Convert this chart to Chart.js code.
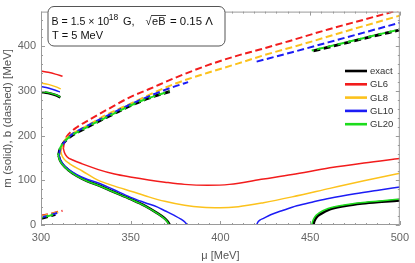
<!DOCTYPE html>
<html>
<head>
<meta charset="utf-8">
<script src="https://cdn.jsdelivr.net/npm/chart.js@4.4.1/dist/chart.umd.min.js"></script>
<style>
  html, body { margin: 0; padding: 0; background: #fff; }
  #wrap { width: 415px; height: 263px; }
</style>
</head>
<body>
<div id="wrap"><canvas id="chart"></canvas></div>
<script>
// curve samples, [mu, MeV]
const exactUpperLeft = [[300, 298], [304, 295.5], [308, 291], [310.8, 286]];
const exactLowerLeft = [[300, 15], [304, 19], [308, 24]];
const exactMainM = [[309.8, 156], [310.5, 146], [312, 136], [315, 124], [320, 110], [326, 98], [332, 89], [340, 75], [350, 58], [358, 43], [365, 26], [368.5, 16], [370.5, 8], [371.8, 0]];
const exactMainB = [[309.8, 156], [310.3, 166], [311.5, 177], [313.5, 188], [317, 200], [322, 211], [330, 228], [337, 242], [345, 258], [352, 271], [360, 284], [366, 292], [371.8, 299]];
const exactHighM = [[451.8, 0], [452.3, 8], [453.5, 17], [456, 25], [461, 35], [470, 43], [479, 48], [490, 52], [500, 55]];
const exactHighB = [[451.8, 390], [465, 403], [480, 418], [500, 437]];

const gl20UpperLeft = [[300, 299], [304, 296.5], [308, 292], [310.8, 287]];
const gl20LowerLeft = [[300, 16], [304, 20], [308, 25]];
const gl20MainM = [[309.6, 156], [310.3, 146], [311.8, 136], [314.8, 124], [319.8, 110], [325.8, 98], [331.8, 89], [339.8, 75], [349.8, 58], [357.8, 43], [364.8, 26], [368.3, 16], [370.3, 8], [371.5, 0]];
const gl20MainB = [[309.6, 156], [310.1, 166], [311.3, 177], [313.3, 188], [316.8, 200], [321.8, 211], [329.8, 228], [336.8, 242], [344.8, 258], [351.8, 271], [359.8, 284], [365.8, 292], [371.5, 299]];
const gl20HighM = [[450.9, 0], [451.4, 8], [452.6, 18], [455, 27], [460, 37], [469, 45], [478, 50], [489, 54], [500, 58]];
const gl20HighB = [[450.9, 391], [465, 404], [480, 419], [500, 438]];

const gl10UpperLeft = [[300, 310], [304, 307], [308, 302], [310.5, 298]];
const gl10LowerLeft = [[300, 17], [304, 21], [309, 27]];
const gl10MainM = [[310, 157], [310.7, 147], [312.2, 137], [315, 126], [320, 113], [326, 102], [332, 94], [340, 80], [350, 62], [358, 50], [365, 40], [369, 32], [374, 22], [378, 13], [380.3, 6], [381.5, 0]];
const gl10MainB = [[310, 157], [310.5, 167], [311.7, 178], [313.7, 189], [317, 202], [322, 214], [330, 231], [337, 245], [345, 261], [352, 274], [360, 288], [368, 301], [375, 311], [382, 320]];
const gl10HighM = [[420.2, 0], [420.8, 6], [422, 11], [424, 15], [428, 23], [435, 33], [442.6, 43], [452, 52], [461, 60], [475, 70], [488, 78], [500, 85]];
const gl10HighB = [[420.2, 366], [440, 387], [460, 409], [480, 431], [500, 453]];

const gl8UpperLeft = [[300, 318], [304, 315], [308, 310], [311, 305]];
const gl8LowerLeft = [[300, 19], [305, 24], [311, 30]];
const gl8MainM = [[311, 165], [311.6, 156], [313, 147], [316, 137], [323, 121], [332, 100], [341, 87], [350.6, 75], [360, 63], [369, 53], [380, 44], [390, 39.5], [400, 38.5], [410, 41], [424, 50], [440, 63], [461, 82], [480, 99], [500, 116]];
const gl8MainB = [[311, 165], [311.5, 176], [312.8, 187], [315, 197], [319, 208], [325, 221], [337, 248], [350, 272], [360, 291], [375, 317], [393, 341], [410, 362], [424, 380], [445, 404], [470, 434], [500, 469]];

const gl6UpperLeft = [[300, 345], [304, 342], [308, 338], [312, 333]];
const gl6LowerLeft = [[300, 21], [306, 26], [312, 32]];
const gl6MainM = [[312.4, 173], [313, 163], [314.5, 153], [318, 145], [323, 137], [332, 124], [341, 114], [350.6, 107], [360, 101], [369, 96], [380, 91], [393, 89], [405, 91], [424, 103], [440, 113], [461, 128], [480, 139], [500, 149]];
const gl6MainB = [[312.4, 173], [312.8, 183], [313.9, 195], [315.5, 204], [320, 219], [327, 236], [336.7, 258], [350, 287], [360, 304], [375, 330], [393, 358], [410, 380], [422, 393], [440, 414], [460, 438], [480, 460], [500, 482]];

const legendNames = ['exact', 'GL6', 'GL8', 'GL10', 'GL20'];
const xTicks = [300, 350, 400, 450, 500];
const yTicks = [0, 100, 200, 300, 400];

const FONT = '"Liberation Sans", Arial, sans-serif';
const colors = { exact: '#000000', gl6: '#f21c1c', gl8: '#fcc21c', gl10: '#1c1cf5', gl20: '#1cdc1c' };

function seg(points, color, dashed, width, order, dashOffset) {
  return {
    data: points.map(p => ({ x: p[0], y: p[1] })),
    borderColor: color,
    borderWidth: dashed ? width + 0.5 : width,
    borderDash: dashed ? [7, 3.5] : [],
    borderDashOffset: dashOffset || 0,
    pointRadius: 0,
    fill: false,
    cubicInterpolationMode: 'monotone',
    order: order
  };
}

const datasets = [
  seg(exactUpperLeft, colors.exact, false, 2.6, 5),
  seg(exactLowerLeft, colors.exact, true, 2.4, 5),
  seg(exactMainM, colors.exact, false, 2.6, 5),
  seg(exactMainB, colors.exact, true, 2.4, 5),
  seg(exactHighM, colors.exact, false, 2.6, 5),
  seg(exactHighB, colors.exact, true, 2.4, 5),
  seg(gl6UpperLeft, colors.gl6, false, 1.5, 4),
  seg(gl6LowerLeft, colors.gl6, true, 1.5, 4),
  seg(gl6MainM, colors.gl6, false, 1.5, 4),
  seg(gl6MainB, colors.gl6, true, 1.5, 4),
  seg(gl8UpperLeft, colors.gl8, false, 1.5, 3),
  seg(gl8LowerLeft, colors.gl8, true, 1.5, 3),
  seg(gl8MainM, colors.gl8, false, 1.5, 3),
  seg(gl8MainB, colors.gl8, true, 1.5, 3),
  seg(gl10UpperLeft, colors.gl10, false, 1.5, 2),
  seg(gl10LowerLeft, colors.gl10, true, 1.5, 2),
  seg(gl10MainM, colors.gl10, false, 1.5, 2),
  seg(gl10MainB, colors.gl10, true, 1.5, 2),
  seg(gl10HighM, colors.gl10, false, 1.5, 2),
  seg(gl10HighB, colors.gl10, true, 1.5, 2),
  seg(gl20UpperLeft, colors.gl20, false, 1.5, 1),
  seg(gl20LowerLeft, colors.gl20, true, 1.5, 1, 5),
  seg(gl20MainM, colors.gl20, false, 1.5, 1),
  seg(gl20MainB, colors.gl20, true, 1.5, 1, 5),
  seg(gl20HighM, colors.gl20, false, 1.5, 1),
  seg(gl20HighB, colors.gl20, true, 1.5, 1, 5)
];

// frame, inward ticks, note box and legend
const decor = {
  id: 'decor',
  afterDatasetsDraw(chart) {
    const { ctx, chartArea: a, scales: { x, y } } = chart;
    ctx.save();
    ctx.strokeStyle = '#9a9a9a';
    ctx.lineWidth = 1;
    ctx.strokeRect(a.left + 0.5, a.top + 0.5, a.right - a.left - 1, a.bottom - a.top - 1);
    ctx.beginPath();
    for (let v = 300; v <= 500.01; v += 6.25) {
      const px = Math.round(x.getPixelForValue(v)) + 0.5;
      const len = (v % 50 === 0) ? 4 : 2;
      ctx.moveTo(px, a.bottom); ctx.lineTo(px, a.bottom - len);
      ctx.moveTo(px, a.top); ctx.lineTo(px, a.top + len);
    }
    for (let v = 0; v <= y.max; v += 20) {
      const py = Math.round(y.getPixelForValue(v)) + 0.5;
      const len = (v % 100 === 0) ? 4 : 2;
      ctx.moveTo(a.left, py); ctx.lineTo(a.left + len, py);
      ctx.moveTo(a.right, py); ctx.lineTo(a.right - len, py);
    }
    ctx.stroke();

    // note box
    ctx.beginPath();
    ctx.roundRect(48, 6.5, 177, 39.5, 6);
    ctx.fillStyle = '#fff';
    ctx.fill();
    ctx.strokeStyle = '#555';
    ctx.stroke();

    ctx.fillStyle = '#111';
    ctx.textBaseline = 'alphabetic';
    ctx.textAlign = 'left';
    const l1 = 25;
    ctx.font = '10.6px ' + FONT;
    ctx.fillText('B = 1.5 \u00d7 10', 51.5, l1);
    ctx.font = '8.5px ' + FONT;
    ctx.fillText('18', 108.8, l1 - 5);
    ctx.font = '11px ' + FONT;
    ctx.fillText('G,', 123, l1);
    ctx.fillText('\u221a', 145.5, l1);
    const rootStart = 145.5 + ctx.measureText('\u221a').width - 0.5;
    ctx.fillText('eB', rootStart + 1, l1);
    const rootEnd = rootStart + 1 + ctx.measureText('eB').width + 0.5;
    ctx.beginPath();
    ctx.lineWidth = 0.8;
    ctx.strokeStyle = '#111';
    ctx.moveTo(rootStart, l1 - 9.5); ctx.lineTo(rootEnd, l1 - 9.5);
    ctx.stroke();
    ctx.font = '11.4px ' + FONT;
    ctx.fillText('= 0.15 \u039b', rootEnd + 4, l1);
    ctx.font = '11px ' + FONT;
    ctx.fillText('T = 5 MeV', 52, 38.5);

    // legend
    const legColors = [colors.exact, colors.gl6, colors.gl8, colors.gl10, colors.gl20];
    ctx.font = '9.5px ' + FONT;
    ctx.textBaseline = 'middle';
    legendNames.forEach((name, i) => {
      const ly = 71 + i * 13.3;
      ctx.beginPath();
      ctx.strokeStyle = legColors[i];
      ctx.lineWidth = 2.6;
      ctx.moveTo(345, ly); ctx.lineTo(367, ly);
      ctx.stroke();
      ctx.fillStyle = '#333';
      ctx.fillText(name, 370, ly + 0.5);
    });
    ctx.restore();
  }
};

new Chart(document.getElementById('chart'), {
  type: 'line',
  data: { datasets: datasets },
  options: {
    responsive: true,
    maintainAspectRatio: false,
    animation: false,
    layout: { padding: { top: 1, right: 11, left: 0, bottom: 0 } },
    plugins: { legend: { display: false }, tooltip: { enabled: false } },
    scales: {
      x: {
        type: 'linear',
        min: 300,
        max: 500,
        afterBuildTicks: s => { s.ticks = xTicks.map(v => ({ value: v })); },
        afterFit: s => { s.height = 38; },
        grid: { display: false, drawTicks: false },
        border: { display: false },
        ticks: { color: '#666', font: { family: FONT, size: 11 }, padding: 6, maxRotation: 0 },
        title: { display: true, text: '\u03bc [MeV]', color: '#555', font: { family: FONT, size: 11 }, padding: { top: 3, bottom: 0 } }
      },
      y: {
        min: 0,
        max: 478,
        afterBuildTicks: s => { s.ticks = yTicks.map(v => ({ value: v })); },
        afterFit: s => { s.width = 41; },
        grid: { display: false, drawTicks: false },
        border: { display: false },
        ticks: { color: '#666', font: { family: FONT, size: 11 }, padding: 5 },
        title: { display: true, text: 'm (solid), b (dashed) [MeV]', color: '#555', font: { family: FONT, size: 11.5 }, padding: { top: 1, bottom: 0 } }
      }
    }
  },
  plugins: [decor]
});
</script>
</body>
</html>
